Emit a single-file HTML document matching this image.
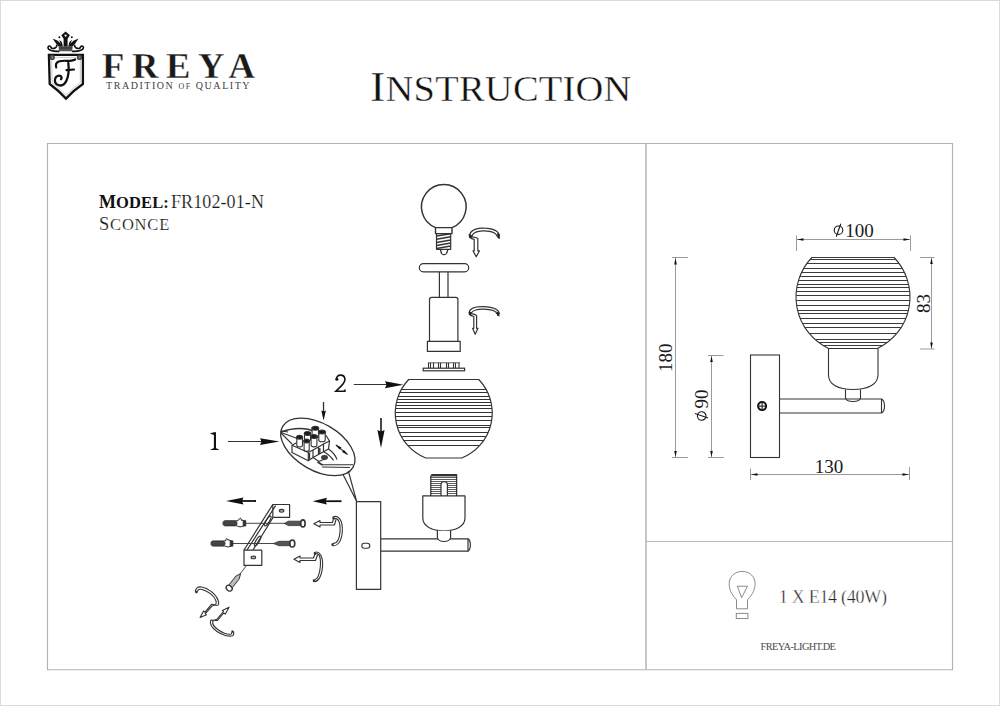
<!DOCTYPE html>
<html><head><meta charset="utf-8">
<style>
html,body{margin:0;padding:0;background:#fff;}
body{width:1000px;height:706px;overflow:hidden;position:relative;}
svg{position:absolute;left:0;top:0;}
text{font-family:"Liberation Serif",serif;}
</style></head>
<body>
<svg width="1000" height="706" viewBox="0 0 1000 706">
<!-- page border -->
<rect x="0.5" y="0.5" width="999" height="705" fill="none" stroke="#dadada" stroke-width="1"/>
<!-- frame -->
<g fill="none">
<path d="M47.5 143.5 H952.5 V669.7 H47.5 Z" stroke="#b2b2b2" stroke-width="1.15"/>
<line x1="646" y1="143.5" x2="646" y2="669.5" stroke="#b8b8b8" stroke-width="1.6"/>
<line x1="646" y1="541.5" x2="952.5" y2="541.5" stroke="#bbbbbb" stroke-width="1.1"/>
</g>

<!-- logo -->
<g id="logo">
 <path d="M48.9 54.8 H82.9 V84 Q74 90 66 98.6 Q58 90 49.7 84 Z" fill="none" stroke="#111" stroke-width="2.3" stroke-linejoin="miter"/>
 <path d="M51.6 57.4 H80.3 V82.8 Q73 88 66 95.2 Q59 88 52.2 82.8 Z" fill="none" stroke="#aaa" stroke-width="0.6"/>
 <circle cx="52.2" cy="57.4" r="2.6" fill="#444"/>
 <circle cx="79.5" cy="57.4" r="2.6" fill="#444"/>
 <circle cx="52.2" cy="57.4" r="1.1" fill="#888"/>
 <circle cx="79.5" cy="57.4" r="1.1" fill="#888"/>
 <g fill="none" stroke="#111" stroke-linecap="round" stroke-linejoin="round">
  <path d="M56.2 67.5 C55.3 64.5 56.5 62.2 59.5 61.3 C63 60.3 66.5 61 70 60.8 C72.5 60.6 74 60 75.2 59.4" stroke-width="2.2"/>
  <path d="M68.3 62.8 C68.8 67 69 75 66.5 80.5 C64.8 84.5 61.5 86 58.5 85.2 C55.5 84.5 54.3 81.5 55.2 78.5 C56 76 58.8 75 60.5 76 C61.8 76.8 61.8 78.5 61 79.2" stroke-width="2.3"/>
  <path d="M66.5 70.2 L74 69.5" stroke-width="2.2"/>
 </g>
 <!-- crown -->
 <g fill="#111">
  <path d="M65.6 31.6 L69.9 35.2 L67.6 38.8 L67.6 46.8 L63.6 46.8 L63.6 38.8 L61.3 35.2 Z"/>
  <path d="M52.6 38.6 L57.8 40.8 L61.5 44.5 L62 46.8 L59 46.8 L56 43.5 Z"/>
  <path d="M78.6 38.6 L73.4 40.8 L69.7 44.5 L69.2 46.8 L72.2 46.8 L75.2 43.5 Z"/>
  <path d="M59.2 39.8 L61.8 42 L63 46.8 L61.6 46.8 Z"/>
  <path d="M72 39.8 L69.4 42 L68.2 46.8 L69.6 46.8 Z"/>
  <circle cx="59.4" cy="37.2" r="1"/>
  <circle cx="71.8" cy="37.2" r="1"/>
  <path d="M58.6 46.2 H72.6 L72.2 51.3 H59 Z" fill="#555"/>
  <path d="M59 48 H72.2" stroke="#222" stroke-width="0.8"/>
 </g>
 <circle cx="65.6" cy="35.6" r="1.15" fill="#fff"/>
 <g fill="none" stroke="#111" stroke-width="1.6" stroke-linecap="round">
  <path d="M56.8 45.2 C56.5 49 51.5 49.2 51 47.2 C50.6 45.6 48.2 45.6 48 47.4 C47.8 50.4 53 51.6 58.8 51.4"/>
  <path d="M74.6 45.2 C74.9 49 79.9 49.2 80.4 47.2 C80.8 45.6 83.2 45.6 83.4 47.4 C83.6 50.4 78.4 51.6 72.6 51.4"/>
 </g>
</g>
<!-- header text -->
<text x="102" y="78" font-size="36.6" font-weight="bold" fill="#1a1a1a" letter-spacing="7.6" stroke="#fff" stroke-width="0.3">FREYA</text>
<text x="106" y="88.5" font-size="10" fill="#404040" letter-spacing="1.55">TRADITION <tspan font-size="8">OF</tspan> QUALITY</text>
<text transform="translate(370 0) scale(1.1 1)" x="0" y="101.2" fill="#111" font-size="42" letter-spacing="0.2" stroke="#fff" stroke-width="0.4">I<tspan font-size="35">NSTRUCTION</tspan></text>

<text x="99" y="208" font-size="18" font-weight="bold" fill="#111" letter-spacing="0.1">M<tspan font-size="16.5">ODEL:</tspan></text>
<text x="171" y="208" font-size="18" fill="#1a1a1a" letter-spacing="0.1" stroke="#fff" stroke-width="0.15">FR102-01-N</text>
<text x="99" y="229.8" font-size="18.5" fill="#1a1a1a" letter-spacing="0.8" stroke="#fff" stroke-width="0.15">S<tspan font-size="16.5">CONCE</tspan></text>



<!-- ========== LEFT DRAWING ========== -->
<g fill="none" stroke="#333" stroke-width="1.2" stroke-linejoin="round">
 <!-- bulb -->
 <path d="M435.6 227.6 A22.3 22.3 0 1 1 452 227.6" stroke-width="1.5"/>
 <rect x="435.5" y="227.6" width="16.5" height="6" stroke-width="1.4"/>
 <path d="M436.5 233.6 V249.3 H450.7 V233.6"/>
 <path d="M440.3 249.3 L441.5 253.5 C442.5 255 445.5 255 446.5 253.5 L448 249.3" stroke-width="1.3"/>
</g>
<g stroke="#333" stroke-width="1.5">
 <line x1="436.5" y1="236" x2="450.7" y2="233.8"/>
 <line x1="436.5" y1="239.3" x2="450.7" y2="236.8"/>
 <line x1="436.5" y1="242.4" x2="450.7" y2="239.9"/>
 <line x1="436.5" y1="245.5" x2="450.7" y2="243"/>
 <line x1="436.5" y1="248.5" x2="450.7" y2="246"/>
</g>
<g fill="none" stroke="#333" stroke-width="1.2" stroke-linejoin="round">
 <!-- clip 1 -->
 <path d="M469.5 236 C470 229 479 227.8 484.5 228.2 C491 228.5 499 230 499.5 236.5"/>
 <path d="M471.8 236.8 C472.5 232 480 230.6 484.5 230.8 C490 231 496.5 232.3 497 236.5"/>
 <path d="M469.5 236 C470 238 472 239 474.2 239.3 V250.8 H473 L476.2 256.8 L479.5 250.8 H477.8 V238.5 C476 237.2 473.5 237 471.8 236.8"/>
 <!-- top disc, stem, body, base -->
 <rect x="419.3" y="263.6" width="49.4" height="8.2" rx="4.1"/>
 <path d="M439.4 271.8 V297.3 M448 271.8 V297.3"/>
 <path d="M429.5 341.4 V299.5 Q429.5 297.3 431.7 297.3 H455.7 Q457.9 297.3 457.9 299.5 V341.4"/>
 <rect x="427.4" y="341.4" width="32.8" height="10"/>
 <!-- clip 2 -->
 <path d="M469 313 C469.5 307.5 478 306.5 483.6 306.7 C491 307 499 308.5 499.3 314"/>
 <path d="M471.2 313.7 C472 310 479 309 483.6 309.2 C490 309.4 496.5 310.8 496.8 314"/>
 <path d="M469 313 C469.5 315 471.5 316 473.8 316.5 V328.3 H472.6 L475.2 334.3 L478 328.3 H476.6 V315.5 C475 314.4 473 314 471.2 313.7"/>
</g>
<g fill="#222"><path d="M469 311.2 L471.5 312.2 L471.2 315.4 L469 314.8 Z"/><path d="M468.6 234 L471.8 235 L471.8 238.5 L469 237.6 Z"/><path d="M497 233 L499.5 234.5 L500 239 L497.5 238 Z"/><path d="M496.6 311.5 L499.3 312.5 L499.5 316.5 L497 315.5 Z"/></g>
<!-- ring with ticks -->
<g fill="none" stroke="#333" stroke-width="1.1">
 <rect x="423.2" y="368.2" width="41.4" height="2.6" stroke-width="1.2"/>
 <line x1="428" y1="362.8" x2="460" y2="362.8" stroke-width="0.8"/>
 <line x1="428.5" y1="362.8" x2="428.5" y2="368.2"/><line x1="430.5" y1="362.8" x2="430.5" y2="368.2"/><line x1="433.5" y1="362.8" x2="433.5" y2="368.2"/><line x1="438.5" y1="362.8" x2="438.5" y2="368.2"/><line x1="440.5" y1="362.8" x2="440.5" y2="368.2"/><line x1="446.5" y1="362.8" x2="446.5" y2="368.2"/><line x1="448.5" y1="362.8" x2="448.5" y2="368.2"/><line x1="453.5" y1="362.8" x2="453.5" y2="368.2"/><line x1="455.5" y1="362.8" x2="455.5" y2="368.2"/><line x1="459.0" y1="362.8" x2="459.0" y2="368.2"/>
</g>
<!-- globe 2 -->
<g fill="none" stroke="#333" stroke-width="1.2"><path d="M408.7 379.5 L478.8 379.5 A48.5 48.5 0 0 1 461.8 458.0 L425.7 458.0 A48.5 48.5 0 0 1 408.7 379.5 Z"/></g>
<g stroke="#333" stroke-width="1"><line x1="401.3" y1="389.5" x2="486.2" y2="389.5"/><line x1="399.8" y1="392.5" x2="487.7" y2="392.5"/><line x1="398.1" y1="396.5" x2="489.4" y2="396.5"/><line x1="397.2" y1="399.5" x2="490.3" y2="399.5"/><line x1="396.4" y1="402.5" x2="491.1" y2="402.5"/><line x1="395.8" y1="405.5" x2="491.7" y2="405.5"/><line x1="395.5" y1="408.5" x2="492.0" y2="408.5"/><line x1="395.3" y1="412.5" x2="492.2" y2="412.5"/><line x1="395.4" y1="416.5" x2="492.1" y2="416.5"/><line x1="395.8" y1="420.5" x2="491.7" y2="420.5"/><line x1="396.9" y1="425.5" x2="490.6" y2="425.5"/><line x1="397.5" y1="427.5" x2="490.0" y2="427.5"/><line x1="399.3" y1="432.5" x2="488.2" y2="432.5"/><line x1="401.3" y1="436.5" x2="486.2" y2="436.5"/><line x1="403.8" y1="440.5" x2="483.7" y2="440.5"/><line x1="407.8" y1="445.5" x2="479.8" y2="445.5"/></g>
<!-- label 2 and arrows -->
<g fill="none" stroke="#111" stroke-width="1.6"><path d="M336.4 379.8 C336 376.5 338.4 375.1 340.5 375.1 C343.2 375.1 344.9 377 344.9 379.6 C344.9 382.6 342.6 384.6 340.6 386.6 L335.9 391.3 H344.9 V389.6"/></g><circle cx="336.9" cy="379.3" r="1.5" fill="#111"/>
<g fill="#111"><rect x="213.9" y="432.2" width="2.1" height="17"/><path d="M209.8 433.6 L214 432.2 L214 435 Z"/><path d="M209.8 449.9 H219.6 L216.3 448.2 H213.4 Z"/></g>
<g stroke="#333" stroke-width="1">
 <line x1="353.8" y1="384.5" x2="388" y2="384.5"/>
 <line x1="228" y1="441.5" x2="263" y2="441.5"/>
 <line x1="323.5" y1="402" x2="323.5" y2="413" stroke-width="1.3"/>
 <line x1="381" y1="418" x2="381" y2="433" stroke-width="1.8"/>
</g>
<g fill="#111">
 <path d="M403.5 384.8 L385 381.3 L386.5 384.8 L385 388.3 Z"/>
 <path d="M381 448 L377.4 430 L381 431.5 L384.6 430 Z"/>
 <path d="M279.5 441.6 L260 438.2 L261.5 441.6 L260 445 Z"/>
 <path d="M323.6 420.5 L321.3 410.5 L323.6 411.5 L325.9 410.5 Z"/>
</g>
<!-- lower socket + arm + plate -->
<g stroke="#333" stroke-width="0.8"><line x1="431" y1="477.5" x2="456.5" y2="477.5"/><line x1="431" y1="479.5" x2="456.5" y2="479.5"/><line x1="431" y1="481.5" x2="456.5" y2="481.5"/><line x1="431" y1="483.5" x2="456.5" y2="483.5"/><line x1="431" y1="485.5" x2="456.5" y2="485.5"/><line x1="431" y1="487.5" x2="456.5" y2="487.5"/><line x1="431" y1="489.5" x2="456.5" y2="489.5"/><line x1="431" y1="491.5" x2="456.5" y2="491.5"/><line x1="431" y1="493.5" x2="456.5" y2="493.5"/></g>
<g fill="none" stroke="#333" stroke-width="1.2" stroke-linejoin="round">
 <path d="M430.8 495.9 V476.2 L432.4 474.6 H456.6 V495.9" stroke-width="1.3"/>
 <line x1="431" y1="475.4" x2="456.6" y2="475.4" stroke-width="2"/>
 <path d="M441 495.9 V484.6 C441 480.8 447.4 480.8 447.4 484.6 V495.9" fill="#fff" stroke-width="1.2"/>
 <path d="M422.8 495.9 H465 V518 C465 526 456 530.8 443.9 530.8 C431.8 530.8 422.8 526 422.8 518 Z" fill="#fff"/>
 <path d="M380.8 538.8 H468 C471.2 541 471.2 549 468 551.2 H380.8"/>
 <line x1="468" y1="538.8" x2="468" y2="551.2"/>
 <path d="M437.4 530.8 V537.5 C438 540.8 441 541.5 444 541.5 C447 541.5 450 540.8 450.6 537.5 V530.8" fill="#fff"/>
 <rect x="356.4" y="501.7" width="24.3" height="87.6"/>
 <rect x="361.8" y="543.2" width="8" height="5" rx="2.5" stroke-width="1.1"/>
 <path d="M342.9 474.3 L356.6 501.2 L348.4 471.3"/>
</g>

<!-- callout bubble -->
<g fill="none" stroke="#333" stroke-width="1.2" stroke-linejoin="round">
 <ellipse cx="317.85" cy="446.85" rx="40.7" ry="23.4" transform="rotate(30.2 317.85 446.85)" stroke-width="1.3"/>
 <path d="M281 432 C288 429.5 297 428 304 428.8 C308 429.2 311 430 313 431" stroke-width="1.6"/>
 <path d="M281 432.5 L296 438 L299 440.5" stroke-width="1.3"/>
 <path d="M281 433 L292 444" stroke-width="1.1"/>
 <path d="M281.5 431 L288 432" stroke-width="1"/>
 <!-- block -->
 <path d="M292 445.2 L297 442.5 L326 435.5 L329.5 441 L328.5 449 L313 457.6 L308.3 460.8 L292 452.5 Z" fill="#fff"/>
 <path d="M292 445.2 L308.3 452.5 L308.3 460.8 M308.3 452.5 L313 450 L313 457.6 M313 450 L318.5 447 L318.5 454.5 M318.5 447 L323.5 444 L323.5 451.5 M323.5 444 L329.5 441"/>
 <path d="M309.5 453 L309.5 459.5 M319.8 448 L319.8 454" stroke="#333" stroke-width="1.4"/>
 <path d="M312.1 427.9 V435.1 A3.2 1.6 0 0 0 318.5 435.1 V427.9 Z" fill="#fff" stroke="#333" stroke-width="1.1"/><ellipse cx="315.3" cy="428.3" rx="3.4" ry="1.9" fill="#1a1a1a"/><path d="M318.8 431.7 V440.2 A3.2 1.6 0 0 0 325.2 440.2 V431.7 Z" fill="#fff" stroke="#333" stroke-width="1.1"/><ellipse cx="322.0" cy="432.1" rx="3.4" ry="1.9" fill="#1a1a1a"/><path d="M304.5 433.0 V439.5 A3.0 1.6 0 0 0 310.5 439.5 V433.0 Z" fill="#fff" stroke="#333" stroke-width="1.1"/><ellipse cx="307.5" cy="433.4" rx="3.2" ry="1.9" fill="#1a1a1a"/><path d="M296.8 436.8 V445.3 A2.8 1.6 0 0 0 302.5 445.3 V436.8 Z" fill="#fff" stroke="#333" stroke-width="1.1"/><ellipse cx="299.6" cy="437.2" rx="3.0" ry="1.9" fill="#1a1a1a"/><path d="M311.1 436.2 V445.3 A2.9 1.6 0 0 0 316.9 445.3 V436.2 Z" fill="#fff" stroke="#333" stroke-width="1.1"/><ellipse cx="314.0" cy="436.6" rx="3.1" ry="1.9" fill="#1a1a1a"/><path d="M304.1 440.6 V449.7 A2.5 1.6 0 0 0 309.2 449.7 V440.6 Z" fill="#fff" stroke="#333" stroke-width="1.1"/><ellipse cx="306.6" cy="441.0" rx="2.7" ry="1.9" fill="#1a1a1a"/>
 <path d="M313 457.6 L319 461.5 L327 458 M323.5 451.5 C327 453.5 331 456.5 333.5 460.5 M328.5 449 C332 451.5 335.5 455 337 459.5" stroke-width="1.2"/>
 <path d="M322 464.8 H353 M322 467 L350 467.5" stroke-width="1.1"/>
 <ellipse cx="324.5" cy="457.5" rx="2.8" ry="1.8" fill="#444"/>
 <path d="M317.5 462 L322.5 465" stroke-width="1.8"/>
</g>
<g stroke="#333" stroke-width="1.2"><line x1="336" y1="445" x2="347.5" y2="454.4"/></g>
<g fill="#111"><path d="M335.5 444.5 L341.5 447.5 L339.5 449.5 Z"/><path d="M348 455 L342 452 L344 450 Z"/></g>
<!-- hardware -->
<g fill="#111">
 <path d="M226 501 L243.5 497.5 L242 501 L243.5 504.5 Z"/>
 <path d="M312.6 501.2 L327 497.8 L325.5 501.2 L327 504.6 Z"/>
</g>
<g stroke="#111" stroke-width="1.8">
 <line x1="242" y1="501" x2="256" y2="501"/>
 <line x1="325" y1="501.2" x2="341.5" y2="501.2"/>
</g>
<g fill="none" stroke="#333" stroke-width="1.1">
 <line x1="245.7" y1="523.3" x2="285" y2="523.3" stroke-width="0.9"/>
 <line x1="232.7" y1="543.5" x2="274" y2="543.5" stroke-width="0.9"/>
 <line x1="228.5" y1="589" x2="252.6" y2="557.6" stroke-width="0.9"/>
</g>
<g fill="#fff" stroke="#333" stroke-width="1.2" stroke-linejoin="round">
 <rect x="272.8" y="504.5" width="16.8" height="12.8"/>
 <ellipse cx="281.6" cy="510.8" rx="2.3" ry="1.4" fill="#aaa" stroke-width="1.1"/>
 <path d="M272.8 504.5 L244 550 M275.6 505.6 L247 550 M273.2 517.3 L253 550" fill="none"/>
 <ellipse cx="267.8" cy="521" rx="1.6" ry="5.5" transform="rotate(32 267.8 521)" fill="none"/>
 <ellipse cx="257.6" cy="541" rx="1.6" ry="5.5" transform="rotate(32 257.6 541)" fill="none"/>
 <rect x="244" y="550.2" width="17.8" height="15.2"/>
 <ellipse cx="253.4" cy="557.4" rx="2.3" ry="1.4" fill="#aaa" stroke-width="1.1"/>
</g>
<path d="M284.4 523.4 L288.3 521.2 H300.7 V525.6 H288.3 Z" fill="#555" stroke="#333" stroke-width="0.8"/>
<ellipse cx="302.9" cy="523.4" rx="2.2" ry="3.5" fill="#fff" stroke="#333" stroke-width="1.6"/>
<path d="M273.5 543.5 L278.9 541.3 H289.8 V545.7 H278.9 Z" fill="#555" stroke="#333" stroke-width="0.8"/>
<ellipse cx="292.3" cy="543.5" rx="2.5" ry="3.5" fill="#fff" stroke="#333" stroke-width="1.6"/>
<!-- screw 3 -->
<g transform="rotate(-52 228.7 588.8)">
 <path d="M232 586.6 H243 L248 588.8 L243 591 H232 Z" fill="#bbb" stroke="#333" stroke-width="0.9"/>
 <ellipse cx="229.5" cy="588.8" rx="2.5" ry="3.3" fill="#fff" stroke="#333" stroke-width="1.3"/>
</g>
<!-- plugs -->
<g stroke="#333" stroke-width="1">
 <path d="M224.5 520.8 H237 L240 519.3 L245.5 521.3 V525.5 L240 527 L237 525.8 H224.5 C222.5 525.8 222.5 520.8 224.5 520.8 Z" fill="#fff"/>
 <rect x="223.5" y="521.2" width="13.5" height="4.2" rx="2" fill="#444"/>
 <path d="M237.5 520.8 L240.5 518 L242 521" fill="#fff"/>
 <rect x="243.2" y="520.8" width="2.5" height="5" fill="#333"/>
 <path d="M212.5 541 H225 L228 539.5 L232.7 541.5 V545.7 L228 547 L225 546 H212.5 C210.5 546 210.5 541 212.5 541 Z" fill="#fff"/>
 <rect x="211.5" y="541.4" width="13.5" height="4.2" rx="2" fill="#444"/>
 <path d="M225 541 L226.5 538.6 L228.5 540" fill="#fff"/>
 <rect x="230.2" y="541" width="2.5" height="5" fill="#333"/>
</g>
<!-- C clips with hollow arrows -->
<g fill="none" stroke="#333" stroke-width="1.1" stroke-linejoin="round">
 <path d="M332.5 517.5 C338 514 343 520 342.3 531.5 C341.7 542 337 547 332 545.5"/>
 <path d="M334.8 518.8 C338.5 517.5 340.5 523 340 531.5 C339.5 540 336.5 544 333 543.3"/>
 <path d="M332.5 517.5 L334.8 518.8 M332 545.5 L333 543.3" stroke-width="2"/>
 <path d="M333.5 518.5 L332.5 522.5 H320 V520.5 L313.8 523.7 L320 527 V525 H334.5 L336 519.5"/>
 <path d="M314 552.8 C319 550 323.5 556 322.5 567 C321.5 577 318 582.5 313.3 581.5"/>
 <path d="M316.2 554 C319.5 553 321 558 320.3 567 C319.6 575 317 580 314.5 579.5"/>
 <path d="M314 552.8 L316.2 554 M313.3 581.5 L314.5 579.5" stroke-width="2"/>
 <path d="M315 553.8 L313.5 558 H300 V556 L294 559.2 L300 562.5 V560.5 H315.5 L317.5 555"/>
 <!-- clip C -->
 <path d="M195.5 592.5 C195 588 198 586.5 201.5 587 C208 588 216 594 218 600 C219 603 218.5 605 217.6 605.4"/>
 <path d="M197.5 591.8 C197.5 589.5 199.5 589 202 589.5 C208 591 214.5 596 216 601 C216.5 603 216 604 215.5 604.2"/>
 <path d="M195.5 592.5 L197.5 591.8" stroke-width="2"/>
 <path d="M217.6 605.4 L211.5 604.3 L205 612.2 L203.5 611 L200.1 617.4 L206.5 614.8 L205.3 613.7 L211.8 606.3 L215.5 604.2"/>
 <!-- clip D -->
 <path d="M210.7 620.1 C209.5 624 212 628 217 631.5 C222 635 229 637 232.4 635.8 C234 635 233.8 632.5 233.3 631.2"/>
 <path d="M212.8 621 C212 624.5 214.5 627.5 218.5 630 C223 633 228.5 634.8 231.2 634 C232 633.5 232 632.5 231.6 631.8"/>
 <path d="M233.3 631.2 L231.6 631.8" stroke-width="2"/>
 <path d="M210.7 620.1 L217.5 620.5 L223.8 613 L225.2 614.2 L229.1 607.2 L222.3 610.4 L223.5 611.5 L217 619.2 L212.8 621"/>
</g>
<!-- right panel drawing -->
<g stroke="#333" stroke-width="1.1" fill="none">
 <path d="M811.9 257.5 L894.1 257.5 A57 57 0 0 1 877.4 348.5 L828.6 348.5 A57 57 0 0 1 811.9 257.5 Z"/>
</g>
<g stroke="#3a3a3a" stroke-width="1"><line x1="811.9" y1="257.5" x2="894.1" y2="257.5"/><line x1="810.1" y1="259.5" x2="895.9" y2="259.5"/><line x1="806.9" y1="263.5" x2="899.1" y2="263.5"/><line x1="803.6" y1="268.5" x2="902.4" y2="268.5"/><line x1="801.5" y1="272.5" x2="904.5" y2="272.5"/><line x1="799.8" y1="276.5" x2="906.2" y2="276.5"/><line x1="798.4" y1="280.5" x2="907.6" y2="280.5"/><line x1="797.4" y1="284.5" x2="908.6" y2="284.5"/><line x1="796.8" y1="287.5" x2="909.2" y2="287.5"/><line x1="796.3" y1="291.5" x2="909.7" y2="291.5"/><line x1="796.0" y1="295.5" x2="910.0" y2="295.5"/><line x1="796.1" y1="300.5" x2="909.9" y2="300.5"/><line x1="796.6" y1="305.5" x2="909.4" y2="305.5"/><line x1="797.6" y1="310.5" x2="908.4" y2="310.5"/><line x1="798.4" y1="313.5" x2="907.6" y2="313.5"/><line x1="800.2" y1="318.5" x2="905.8" y2="318.5"/><line x1="802.5" y1="323.5" x2="903.5" y2="323.5"/><line x1="804.8" y1="327.5" x2="901.2" y2="327.5"/><line x1="809.2" y1="333.5" x2="896.8" y2="333.5"/><line x1="815.0" y1="339.5" x2="891.0" y2="339.5"/><line x1="818.7" y1="342.5" x2="887.3" y2="342.5"/><line x1="823.1" y1="345.5" x2="882.9" y2="345.5"/></g>
<g stroke="#333" stroke-width="1.1" fill="none">
 <path d="M828.5 348.5 V375 C828.5 384.5 838 389.5 853 389.5 C868 389.5 878 384.5 878 375 V348.5"/>
 <path d="M845.5 389.5 V398 C846 401 851 401.5 853 401.5 C856 401.5 860 401 860.5 398 V389.5"/>
 <path d="M779.5 399 H881.5 C885.5 401 885.5 411 881.5 413 H779.5"/>
 <line x1="881.5" y1="399" x2="881.5" y2="413"/>
 <rect x="750.5" y="355" width="29" height="102.5"/>
 <circle cx="762.1" cy="406.1" r="4" stroke-width="2" stroke="#111"/>
 <path d="M758.5 406.1 H765.7 M762.1 402.5 V409.7" stroke-width="1.2"/>
</g>
<!-- dimensions -->
<g stroke="#9a9a9a" stroke-width="1" fill="none">
 <line x1="796" y1="239.5" x2="910" y2="239.5"/>
 <line x1="796.5" y1="235.5" x2="796.5" y2="251"/>
 <line x1="910.5" y1="235.5" x2="910.5" y2="251"/>
 <line x1="675.5" y1="257.5" x2="675.5" y2="457.5"/>
 <line x1="672" y1="257.5" x2="688" y2="257.5"/>
 <line x1="672" y1="457.5" x2="688" y2="457.5"/>
 <line x1="711.5" y1="355.5" x2="711.5" y2="457.5"/>
 <line x1="708" y1="355.5" x2="723.5" y2="355.5"/>
 <line x1="708" y1="457.5" x2="724" y2="457.5"/>
 <line x1="931.5" y1="257.5" x2="931.5" y2="349"/>
 <line x1="920" y1="257.5" x2="934.5" y2="257.5"/>
 <line x1="920" y1="349" x2="934.5" y2="349"/>
 <line x1="750.5" y1="474.5" x2="909.5" y2="474.5"/>
 <line x1="750.5" y1="468.5" x2="750.5" y2="480"/>
 <line x1="909.5" y1="467" x2="909.5" y2="480"/>
</g>
<g fill="#111">
 <path d="M797 239.5 L803.5 238.2 L803.5 240.8 Z"/>
 <path d="M910 239.5 L903.5 238.2 L903.5 240.8 Z"/>
 <path d="M675.5 258 L674.2 264.5 L676.8 264.5 Z"/>
 <path d="M675.5 457 L674.2 451 L676.8 451 Z"/>
 <path d="M711.5 356 L710.2 362 L712.8 362 Z"/>
 <path d="M711.5 457 L710.2 451 L712.8 451 Z"/>
 <path d="M931.5 258 L930.2 264 L932.8 264 Z"/>
 <path d="M931.5 348.5 L930.2 342.5 L932.8 342.5 Z"/>
 <path d="M751 474.5 L757.5 473.2 L757.5 475.8 Z"/>
 <path d="M909 474.5 L902.5 473.2 L902.5 475.8 Z"/>
</g>
<g fill="#1a1a1a" font-size="19">
 <text x="845.3" y="236.5">100</text>
 <text x="814.8" y="472.5">130</text>
 <text transform="translate(672 372.1) rotate(-90)">180</text>
 <text transform="translate(708 421) rotate(-90)" x="12.6">90</text>
 <text transform="translate(930.4 313) rotate(-90)">83</text>
</g>
<g fill="none" stroke="#1a1a1a" stroke-width="1.1">
 <ellipse cx="838.5" cy="230.2" rx="4.3" ry="4.2"/>
 <line x1="840.8" y1="223.7" x2="836.2" y2="236.8"/>
 <g transform="translate(708 421) rotate(-90)">
  <ellipse cx="5" cy="-6.3" rx="4.25" ry="4.3"/>
  <line x1="7.4" y1="-13" x2="3.1" y2="0"/>
 </g>
</g>
<!-- bottom right -->
<g fill="none" stroke="#8a8a8a" stroke-width="1">
 <path d="M736.5 608.8 V599.8 C731 594 729.2 589 729.2 583.5 C729.2 576.5 735 571.4 742.2 571.4 C749.4 571.4 755.1 576.5 755.1 583.5 C755.1 589 753 594 747.5 599.8 V608.8 Z"/>
 <rect x="736.3" y="613.4" width="11.6" height="5.1"/>
 <path d="M737.3 586.2 H747.5 L741.6 597.7 Z"/>
</g>
<text x="778.8" y="602.8" font-size="18" fill="#222" letter-spacing="-0.28" stroke="#fff" stroke-width="0.35">1 X E14 (40W)</text>
<text x="760.5" y="650" font-size="10.4" fill="#4a4a4a" letter-spacing="-0.6">FREYA-LIGHT.DE</text>
</svg>
</body></html>
